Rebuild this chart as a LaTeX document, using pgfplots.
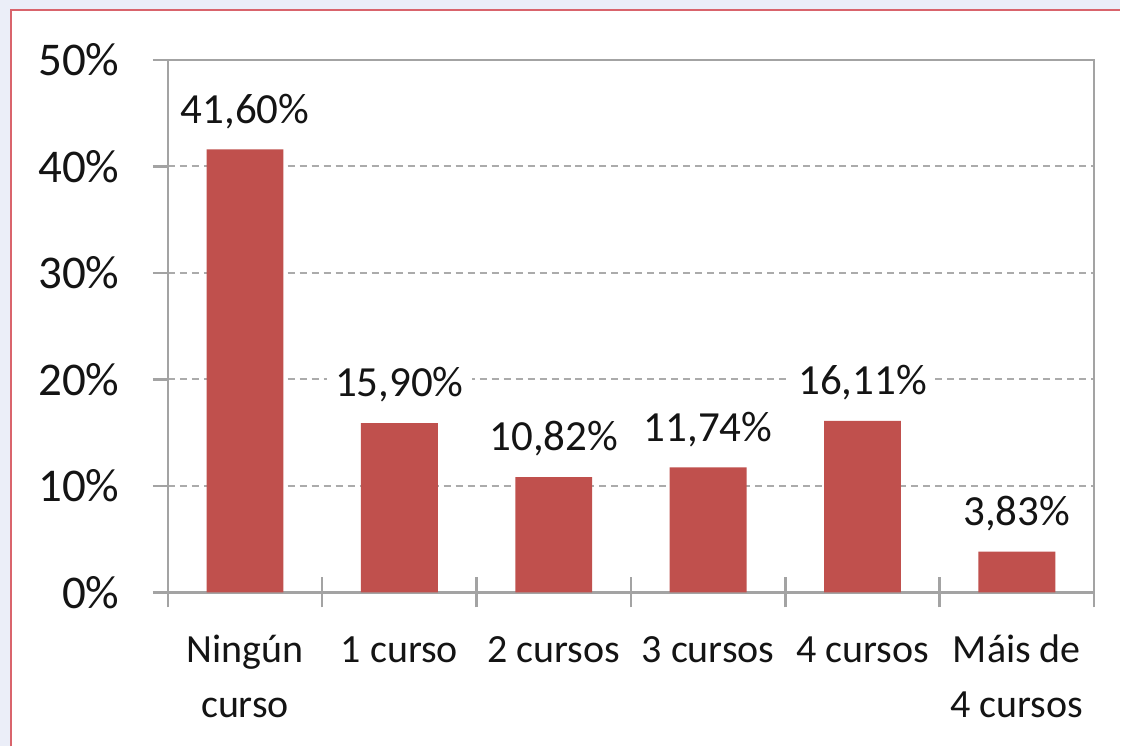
\documentclass[border=0pt]{standalone}
\usepackage{fontspec}
\setmainfont{Carlito}
\usepackage{pgfplots}
\pgfplotsset{compat=1.18}
\definecolor{barred}{HTML}{C0504D}
\definecolor{axgray}{HTML}{A3A3A3}
\definecolor{gridgray}{HTML}{ABABAB}
\definecolor{outerbg}{HTML}{EBEEF8}
\definecolor{framered}{HTML}{D9646C}
\definecolor{txt}{HTML}{141414}

\begin{document}
\begin{tikzpicture}
% page background and frame
\fill[outerbg] (0,0) rectangle (560.5pt,373.5pt);
\fill[white] (5.5pt,0) rectangle (560.5pt,368.5pt);
\draw[framered,line width=1pt] (5.5pt,0) -- (5.5pt,368.5pt) -- (560.5pt,368.5pt);
\useasboundingbox (0,0) rectangle (560.5pt,373.5pt);
\begin{axis}[
    at={(84pt,77pt)}, anchor=south west,
    scale only axis, width=463.5pt, height=266.5pt,
    xmin=-0.5, xmax=5.5, ymin=0, ymax=50,
    ybar, bar width=38.5pt,
    axis line style={axgray, line width=1.2pt},
    tick style={axgray, line width=1.2pt},
    tick align=outside, major tick length=7.5pt,
    tick pos=left,
    xtick={-0.5,0.5,...,5.5},
    x tick label as interval,
    xticklabels={{\strut Ningún\\curso},{\strut 1 curso},{\strut 2 cursos},{\strut 3 cursos},{\strut 4 cursos},{\strut Máis de\\4 cursos}},
    extra x ticks={-0.5,0.5,...,5.5},
    extra x tick labels={{},{},{},{},{},{},{}},
    extra x tick style={tick style={yshift=7.5pt}},
    xticklabel style={font=\fontsize{20}{27.5}\selectfont, text=txt, align=center, inner sep=0pt, anchor=north, yshift=-8.25pt},
    ytick={0,10,...,50},
    yticklabels={0\%,10\%,20\%,30\%,40\%,50\%},
    yticklabel style={font=\fontsize{23.5}{28}\selectfont, text=txt, inner sep=0pt, xshift=-16.5pt},
    ymajorgrids,
    major grid style={gridgray, line width=1pt, dash pattern=on 3.5pt off 2.5pt},
    nodes near coords={\pgfmathprintnumber[fixed,fixed zerofill,precision=2,use comma,assume math mode=true]{\pgfplotspointmeta}\%},
    every node near coord/.append style={font=\fontsize{21.5}{26}\selectfont, text=txt, fill=white, inner xsep=4pt, inner ysep=2pt, text depth=0pt, anchor=south, yshift=11pt},
]
\addplot[fill=barred, draw=none] coordinates {(0,41.60) (1,15.90) (2,10.82) (3,11.74) (4,16.11) (5,3.83)};
\end{axis}
\end{tikzpicture}
\end{document}
